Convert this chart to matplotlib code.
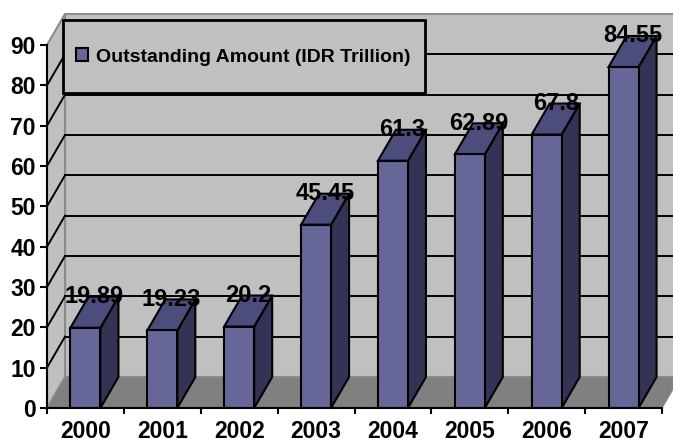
import matplotlib.pyplot as plt
import numpy as np
from matplotlib.patches import Polygon, Rectangle, Patch

# data
years = ['2000', '2001', '2002', '2003', '2004', '2005', '2006', '2007']
amount = [19.89, 19.23, 20.2, 45.45, 61.3, 62.89, 67.8, 84.55]
amount_labels = ['19.89', '19.23', '20.2', '45.45', '61.3', '62.89', '67.8', '84.55']
series_name = 'Outstanding Amount (IDR Trillion)'
yticks = list(range(0, 100, 10))

plt.rcParams['font.family'] = ['Liberation Sans', 'DejaVu Sans']
plt.rcParams['font.weight'] = 'bold'

front_col = '#666699'
side_col = '#333355'
top_col = '#4d4d7d'
wall_col = '#c0c0c0'
floor_col = '#808080'
edge_grey = '#8c8c8c'

fig = plt.figure(figsize=(6.73, 4.45), dpi=100)
W, H = 673, 445
# front plane in pixels: x 47..662, y 408 (0) .. 45 (90)
ax = fig.add_axes([47 / W, (H - 408) / H, 615 / W, 363 / H])
n = len(years)
ymax = 90
ax.set_xlim(0, n)
ax.set_ylim(0, ymax)
ax.patch.set_visible(False)

# depth offset (18 px right, 31 px up)
dx = 18 / 615 * n
dy = 31 / 363 * ymax
hw = 15 / 615 * n  # half bar width

# back wall
ax.add_patch(Rectangle((dx, dy), n, ymax, facecolor=wall_col, edgecolor=edge_grey,
                       lw=1.5, zorder=1, clip_on=False))
# left wall
ax.add_patch(Polygon([(0, 0), (dx, dy), (dx, ymax + dy), (0, ymax)], closed=True,
                     facecolor=wall_col, edgecolor=edge_grey, lw=1.5, zorder=1, clip_on=False))
# floor
ax.add_patch(Polygon([(0, 0), (n, 0), (n + dx, dy), (dx, dy)], closed=True,
                     facecolor=floor_col, edgecolor=edge_grey, lw=1.0, zorder=1, clip_on=False))

# gridlines
for v in yticks[1:-1]:
    ax.plot([dx, n + dx], [v + dy, v + dy], color='black', lw=1.4, zorder=2, clip_on=False)
    ax.plot([0, dx], [v, v + dy], color='black', lw=1.4, zorder=2, clip_on=False)

# legend box (sits on the back wall)
fig.patches.append(Rectangle((63 / W, 1 - 93 / H), (425 - 63) / W, (93 - 20) / H,
                             transform=fig.transFigure, facecolor=wall_col,
                             edgecolor='black', lw=2, zorder=3))

# bars
centers = np.arange(n) + 0.5
ax.bar(centers, amount, width=2 * hw, color=front_col, edgecolor='black', lw=1.5, zorder=5)
for c, v, lab in zip(centers, amount, amount_labels):
    xl, xr = c - hw, c + hw
    ax.add_patch(Polygon([(xr, 0), (xr + dx, dy), (xr + dx, v + dy), (xr, v)], closed=True,
                         facecolor=side_col, edgecolor='black', lw=1.5, zorder=4, clip_on=False))
    ax.add_patch(Polygon([(xl, v), (xr, v), (xr + dx, v + dy), (xl + dx, v + dy)], closed=True,
                         facecolor=top_col, edgecolor='black', lw=1.5, zorder=4, clip_on=False))
    ax.text(c + dx / 2, v + dy, lab, ha='center', va='center', fontsize=17,
            fontweight='bold', color='black', zorder=6)

# axes
for s in ['top', 'right']:
    ax.spines[s].set_visible(False)
for s in ['left', 'bottom']:
    ax.spines[s].set_linewidth(1.5)
    ax.spines[s].set_zorder(7)
ax.set_yticks(yticks)
ax.set_yticklabels([str(t) for t in yticks], fontsize=16.5, fontweight='bold')
ax.tick_params(axis='y', length=5, width=1.5, pad=3)
ax.set_xticks(np.arange(n + 1))
ax.set_xticklabels([])
ax.tick_params(axis='x', which='major', length=4, width=1.5, direction='out')
ax.set_xticks(centers, minor=True)
ax.set_xticklabels(years, minor=True, fontsize=16.5, fontweight='bold')
ax.tick_params(axis='x', which='minor', length=0, pad=9)

handle = Patch(facecolor=front_col, edgecolor='black', lw=1.5)
leg = fig.legend([handle], [series_name], loc='center left',
                 bbox_to_anchor=(76 / W, 1 - 57 / H), frameon=False,
                 prop={'size': 14, 'weight': 'bold'}, handlelength=0.64,
                 handleheight=0.64, handletextpad=0.4, borderpad=0, borderaxespad=0)
leg.set_zorder(8)

fig.savefig('out.png', dpi=100)
